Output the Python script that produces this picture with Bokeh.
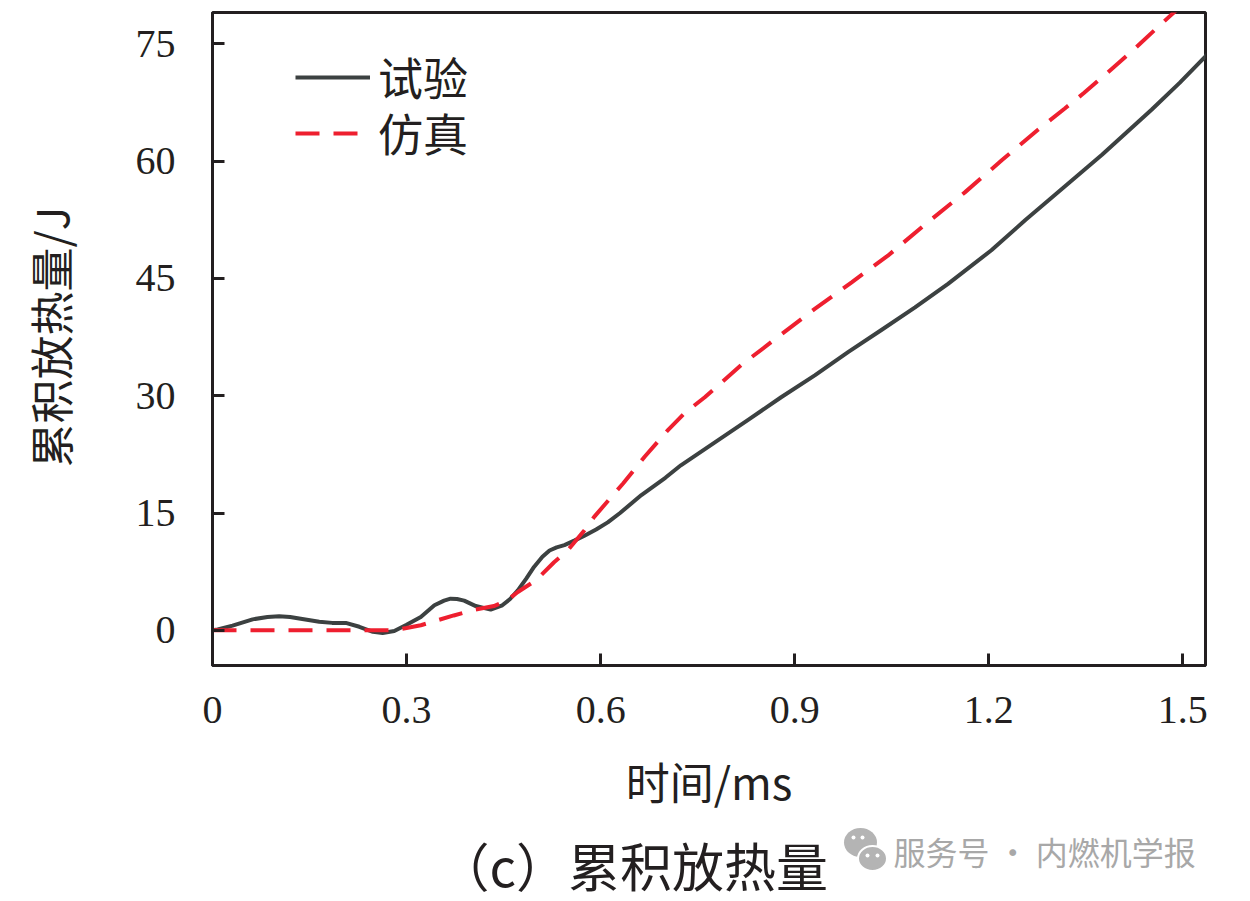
from bokeh.plotting import figure
from bokeh.models import Range1d, FixedTicker, Legend, LegendItem
from bokeh.layouts import column
from bokeh.core.properties import value
from bokeh.embed import file_html
from bokeh.resources import INLINE

# ---- data ----
t_exp = [0.0, 0.008, 0.031, 0.062, 0.085, 0.103, 0.12, 0.134, 0.165, 0.185, 0.206, 0.227,
         0.248, 0.263, 0.281, 0.30, 0.322, 0.343, 0.358, 0.368, 0.378, 0.389, 0.407, 0.43,
         0.448, 0.46, 0.472, 0.485, 0.497, 0.51, 0.521, 0.532, 0.544, 0.56, 0.575, 0.593,
         0.611, 0.63, 0.663, 0.70, 0.724, 0.776, 0.828, 0.879, 0.931, 0.983, 1.034, 1.086,
         1.137, 1.204, 1.257, 1.297, 1.375, 1.452, 1.495, 1.535, 1.54]
q_exp = [0.0, 0.1, 0.6, 1.4, 1.7, 1.8, 1.7, 1.5, 1.1, 0.95, 0.95, 0.45,
         -0.2, -0.35, -0.1, 0.7, 1.7, 3.2, 3.8, 4.05, 4.0, 3.8, 3.1, 2.65,
         3.2, 4.0, 5.1, 6.6, 8.1, 9.4, 10.2, 10.6, 10.9, 11.5, 12.1, 12.9,
         13.8, 15.0, 17.3, 19.5, 21.1, 24.0, 26.9, 29.8, 32.6, 35.6, 38.4, 41.3,
         44.3, 48.6, 52.5, 55.3, 60.8, 66.6, 70.0, 73.4, 73.9]

t_sim = [0.0, 0.28, 0.30, 0.322, 0.373, 0.404, 0.435, 0.455, 0.472, 0.5, 0.528, 0.549,
         0.575, 0.59, 0.616, 0.635, 0.668, 0.704, 0.73, 0.761, 0.817, 0.874, 0.931, 0.988,
         1.044, 1.10, 1.163, 1.22, 1.276, 1.317, 1.347, 1.375, 1.418, 1.457, 1.49]
q_sim = [0.0, 0.0, 0.3, 0.65, 1.9, 2.6, 3.1, 3.8, 4.9, 6.4, 8.7, 10.2,
         12.8, 14.5, 17.0, 18.8, 22.2, 25.6, 27.8, 29.8, 33.9, 37.5, 41.1, 44.5,
         47.9, 51.8, 56.0, 60.1, 64.0, 66.7, 68.7, 70.7, 73.8, 76.8, 79.3]

x_ticks = [0, 0.3, 0.6, 0.9, 1.2, 1.5]
x_tick_labels = ["0", "0.3", "0.6", "0.9", "1.2", "1.5"]
y_ticks = [0, 15, 30, 45, 60, 75]
y_tick_labels = ["0", "15", "30", "45", "60", "75"]

series_names = ["试验", "仿真"]
x_title = "时间/ms"
y_title = "累积放热量/J"
caption = "（c）累积放热量"
watermark = "服务号 · 内燃机学报"

SERIF = "Liberation Serif"
CJK = "Noto Sans CJK SC"
INK = "#231f20"

W = 1250
H_MAIN = 822
H_CAP = 901 - H_MAIN
LEFT, RIGHT = 212, 45

p = figure(width=W, height=H_MAIN, output_backend="svg", toolbar_location=None,
           x_range=Range1d(0, 1.535), y_range=Range1d(-4.5, 79),
           min_border_left=LEFT, min_border_right=RIGHT, min_border_top=12,
           min_border_bottom=H_MAIN - 12 - 653)

p.background_fill_color = "white"
p.border_fill_color = "white"
p.grid.visible = False
p.outline_line_color = INK
p.outline_line_width = 3
p.outline_line_alpha = 1

r_exp = p.line(t_exp, q_exp, line_color="#3c4141", line_width=4, line_join="round")
r_sim = p.line(t_sim, q_sim, line_color="#ee1f2f", line_width=4, line_dash="24 14")

for ax in (p.xaxis[0], p.yaxis[0]):
    ax.axis_line_color = INK
    ax.axis_line_width = 3
    ax.major_tick_line_color = INK
    ax.major_tick_line_width = 3
    ax.major_tick_in = 12
    ax.major_tick_out = 0
    ax.minor_tick_line_color = None
    ax.major_label_text_font = SERIF
    ax.major_label_text_font_size = "40px"
    ax.major_label_text_color = INK
    ax.axis_label_text_font = CJK
    ax.axis_label_text_font_style = "normal"
    ax.axis_label_text_color = INK

p.xaxis.axis_label_text_font_size = "44px"
p.yaxis.axis_label_text_font_size = "44px"
p.xaxis.ticker = FixedTicker(ticks=x_ticks)
p.xaxis.major_label_overrides = {t: s for t, s in zip(x_ticks, x_tick_labels)}
p.yaxis.ticker = FixedTicker(ticks=y_ticks)
p.yaxis.major_label_overrides = {t: s for t, s in zip(y_ticks, y_tick_labels)}
p.xaxis.axis_label = x_title
p.yaxis.axis_label = y_title
p.xaxis.major_label_standoff = 31
p.xaxis.axis_label_standoff = 23
p.yaxis.major_label_standoff = 37
p.yaxis.axis_label_standoff = 51


def make_legend(name, renderer, loc):
    lg = Legend(items=[LegendItem(label=name, renderers=[renderer])], location=loc)
    lg.margin = 0
    lg.padding = 0
    lg.glyph_width = 75
    lg.glyph_height = 50
    lg.label_height = 50
    lg.label_standoff = 8
    lg.label_text_font = CJK
    lg.label_text_font_size = "45px"
    lg.label_text_color = INK
    lg.border_line_alpha = 0
    lg.background_fill_alpha = 0
    return lg


p.add_layout(make_legend(series_names[0], r_exp, (83, 556)))
p.add_layout(make_legend(series_names[1], r_sim, (83, 500)))

# ---- caption strip: its frame is aligned with the main frame (page x 212..1205),
# data units = page pixels, y downwards ----
c = figure(width=W, height=H_CAP, output_backend="svg", toolbar_location=None,
           x_range=Range1d(LEFT, W - RIGHT), y_range=Range1d(901, H_MAIN),
           min_border_left=LEFT, min_border_right=RIGHT, min_border_top=0, min_border_bottom=0,
           x_axis_location=None, y_axis_location=None)
c.grid.visible = False
c.outline_line_color = None
c.background_fill_color = "white"
c.border_fill_color = "white"

# WeChat-like icon behind the watermark
c.ellipse(x=[860], y=[842], width=[33], height=[29], fill_color="#b4b4b4", line_color=None)
c.ellipse(x=[872], y=[858], width=[29], height=[25], fill_color="#b4b4b4",
          line_color="white", line_width=2)
c.scatter(x=[853, 862, 867, 877], y=[837, 837, 855, 855], size=4, fill_color="white",
          line_color=None)

c.text(x=[437], y=[864], text=[caption], text_font=value(CJK), text_font_size="52px",
       text_color=INK, text_baseline="middle", text_align="left")
c.text(x=[893], y=[850], text=[watermark], text_font=value(CJK), text_font_size="32px",
       text_color="#a8a8a8", text_baseline="middle", text_align="left")

layout = column(p, c, spacing=0)
open("out.html", "w").write(file_html(layout, INLINE))
